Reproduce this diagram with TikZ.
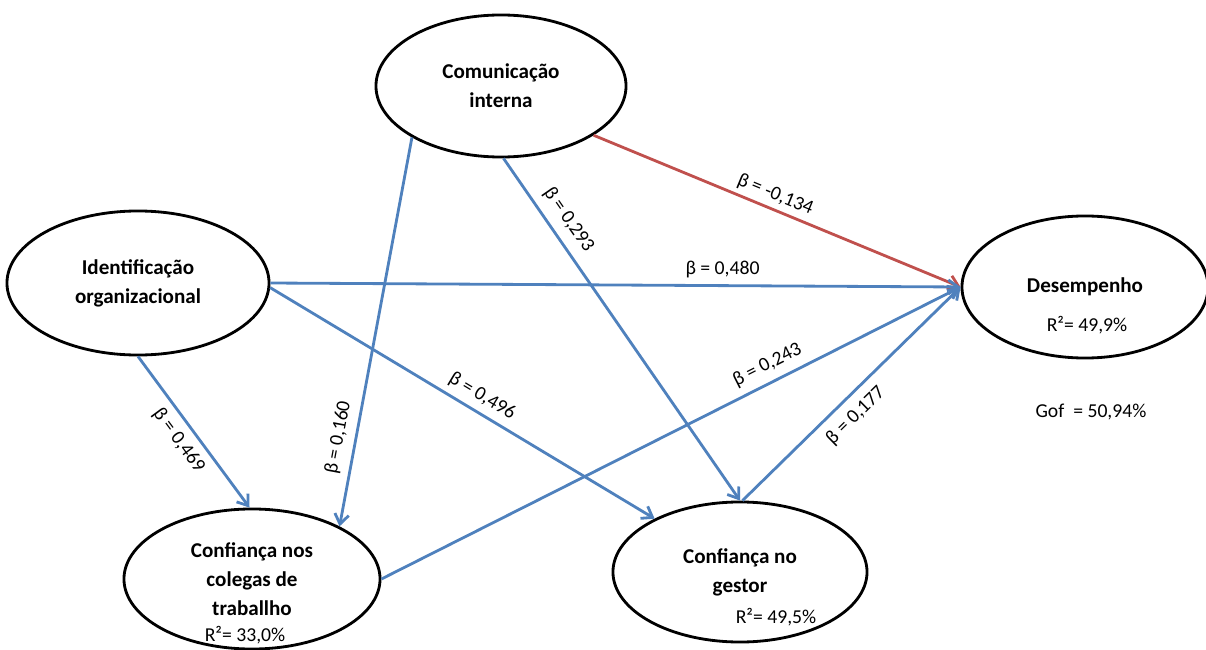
\documentclass[tikz,border=0pt]{standalone}
\usepackage{fontspec}
\setmainfont{Carlito}
\usepackage{tikz}
\usetikzlibrary{arrows.meta}
\usetikzlibrary{shapes}

\definecolor{pathblue}{HTML}{4F81BD}
\definecolor{pathred}{HTML}{C0504D}

\begin{document}
\begin{tikzpicture}[
        x=0.025cm, y=-0.025cm,
        construct/.style={ellipse,draw,line width=2pt,inner sep=0pt,align=center,font=\fontsize{15}{20.5}\selectfont\bfseries},
        rsq/.style={font=\fontsize{14}{16}\selectfont},
        effect/.style={draw=pathblue,line width=2pt,-{Straight Barb[length=7pt,width=10pt]}},
        coef/.style={font=\fontsize{14}{16}\selectfont,sloped},
        ]
        \useasboundingbox (0,0) rectangle (1206,650);

        \node[construct,minimum width=6.25cm,minimum height=3.55cm](ci) at (501,86){Comunicação\\interna};
        \node[construct,minimum width=6.55cm,minimum height=3.6cm](io) at (138,283){Identificação\\organizacional};
        \node[construct,minimum width=6.15cm,minimum height=3.55cm](de) at (1085,287){Desempenho};
        \node[construct,minimum width=6.4cm,minimum height=3.5cm](cc) at (252,579){Confiança nos\\colegas de\\traballho};
        \node[construct,minimum width=6.35cm,minimum height=3.5cm](cg) at (740,572){Confiança no\\gestor};

        \node[rsq](de_r2) at (1087,325){R²= 49,9\%};
        \node[rsq](cc_r2) at (245,635){R²= 33,0\%};
        \node[rsq](cg_r2) at (776,617){R²= 49,5\%};
        \node[rsq](gof) at (1091,412){Gof\ \ = 50,94\%};

        \draw[effect,draw=pathred] (ci.-28) -- node[coef,pos=0.48,above]{β = -0,134} (de.west);
        \draw[effect] (io.0) -- node[coef,pos=0.655,above=1pt]{β = 0,480} (de.west);
        \draw[effect] (ci.-88) -- node[coef,pos=0.21,above=3pt]{β = 0,293} (cg.90);
        \draw[effect] (ci.210) -- node[coef,pos=0.78,above=2pt]{β = 0,160} (cc.31);
        \draw[effect] (io.-90) -- node[coef,pos=0.49,below=2pt]{β = 0,469} (cc.92);
        \draw[effect] (io.-2) -- node[coef,pos=0.53,above=1pt]{β = 0,496} (cg.148);
        \draw[effect] (cc.0) -- node[coef,pos=0.68,above=2pt]{β = 0,243} (de.west);
        \draw[effect] (cg.88) -- node[coef,pos=0.46,below=3pt]{β = 0,177} (de.west);

\end{tikzpicture}
\end{document}
